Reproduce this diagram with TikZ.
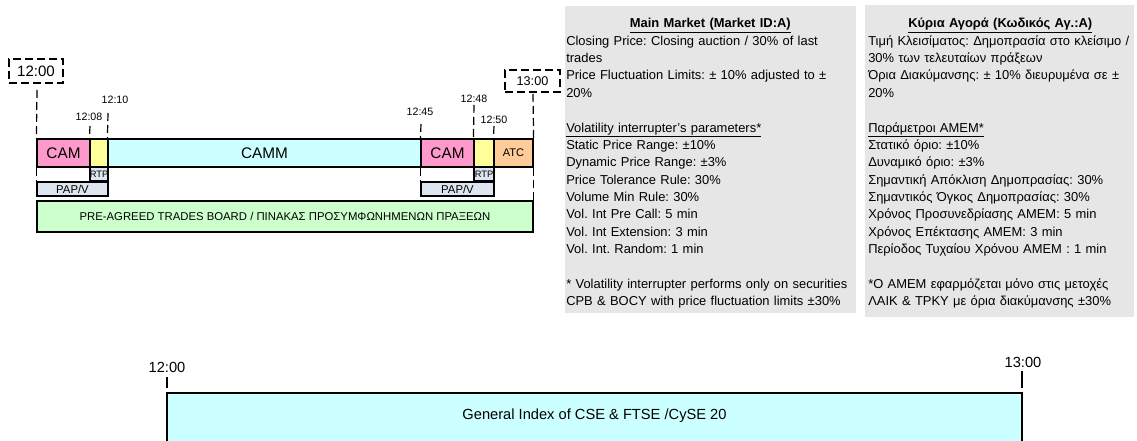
\documentclass[tikz,border=0pt]{standalone}
\usepackage{fontspec}
\setmainfont{Liberation Sans}
\usetikzlibrary{fit}
\definecolor{cpink}{HTML}{FF99CC}
\definecolor{cyell}{HTML}{FFFF99}
\definecolor{ccyan}{HTML}{CCFFFF}
\definecolor{corange}{HTML}{FFCC99}
\definecolor{cgreen}{HTML}{CCFFCC}
\definecolor{cblue}{HTML}{DDE5F0}
\definecolor{cpanel}{HTML}{E6E6E6}
\frenchspacing
\tikzset{
  seg/.style={draw=black, line width=0.9pt, inner sep=0pt},
  lbl/.style={inner sep=0pt},
  dashln/.style={draw=black, line width=0.9pt, dash pattern=on 6pt off 3pt},
  dashbox/.style={draw=black, line width=0.9pt, dash pattern=on 6pt off 3pt, inner sep=0pt},
  timelbl/.style={font=\fontsize{8}{9}\selectfont, inner sep=0pt},
  panel/.style={fill=cpanel, inner sep=0pt},
  ptext/.style={font=\fontsize{9.7}{13.03}\selectfont, align=left, inner sep=0pt, anchor=base west, text width=260pt},
  solidln/.style={draw=black, line width=0.8pt},
}
\begin{document}
\begin{tikzpicture}[x=0.75pt,y=-0.75pt]
\useasboundingbox (0,0) rectangle (1137,441);
% ---------- info panels ----------
\node[panel, fit={(565,6) (856,313)}] (pan1) {};
\node[panel, fit={(865,5) (1134,317)}] (pan2) {};
\node[ptext] (txt1) at (566,27.8) {\makebox[216pt][c]{\textbf{\underline{Main Market (Market ID:A)}}}\\
Closing Price: Closing auction / 30\% of last\\
trades\\
Price Fluctuation Limits: ± 10\% adjusted to ±\\
20\%\\
~\\
\underline{Volatility interrupter's parameters*}\\
Static Price Range: ±10\%\\
Dynamic Price Range: ±3\%\\
Price Tolerance Rule: 30\%\\
Volume Min Rule: 30\%\\
Vol. Int Pre Call: 5 min\\
Vol. Int Extension: 3 min\\
Vol. Int. Random: 1 min\\
~\\
{*} Volatility interrupter performs only on securities\\
CPB \& BOCY with price fluctuation limits ±30\%};
\node[ptext] (txt2) at (868,27.8) {\makebox[198pt][c]{\textbf{\underline{Κύρια Αγορά (Κωδικός Αγ.:Α)}}}\\
Τιμή Κλεισίματος: Δημοπρασία στο κλείσιμο /\\
30\% των τελευταίων πράξεων\\
Όρια Διακύμανσης: ± 10\% διευρυμένα σε ±\\
20\%\\
~\\
\underline{Παράμετροι ΑΜΕΜ*}\\
Στατικό όριο: ±10\%\\
Δυναμικό όριο: ±3\%\\
Σημαντική Απόκλιση Δημοπρασίας: 30\%\\
Σημαντικός Όγκος Δημοπρασίας: 30\%\\
Χρόνος Προσυνεδρίασης ΑΜΕΜ: 5 min\\
Χρόνος Επέκτασης ΑΜΕΜ: 3 min\\
Περίοδος Τυχαίου Χρόνου ΑΜΕΜ : 1 min\\
~\\
{*}Ο ΑΜΕΜ εφαρμόζεται μόνο στις μετοχές\\
ΛΑΙΚ \& ΤΡΚΥ με όρια διακύμανσης ±30\%};
% ---------- session bars ----------
\node[seg, fill=cpink, fit={(37,139) (90,167)}] (cam1) {};
\node[seg, fill=cyell, fit={(90,139) (108,167)}] (y1) {};
\node[seg, fill=ccyan, fit={(108,139) (421,167)}] (camm) {};
\node[seg, fill=cpink, fit={(421,139) (474,167)}] (cam2) {};
\node[seg, fill=cyell, fit={(474,139) (494,167)}] (y2) {};
\node[seg, fill=corange, fit={(494,139) (533,167)}] (atc) {};
\node[seg, fill=cblue, fit={(90,167) (108,181)}] (rtp1) {};
\node[seg, fill=cblue, fit={(474,167) (494,181)}] (rtp2) {};
\node[seg, fill=cblue, fit={(37,182) (108,196)}] (pap1) {};
\node[seg, fill=cblue, fit={(421,182) (494,196)}] (pap2) {};
\node[seg, fill=cgreen, fit={(37,201) (533,232)}] (board) {};
\node[lbl, font=\fontsize{11.5}{12}\selectfont] (lcam1) at (cam1.center) {CAM};
\node[lbl, font=\fontsize{11.5}{12}\selectfont] (lcamm) at (camm.center) {CAMM};
\node[lbl, font=\fontsize{11.5}{12}\selectfont] (lcam2) at (cam2.center) {CAM};
\node[lbl, font=\fontsize{8.3}{9}\selectfont] (latc) at (atc.center) {ATC};
\node[lbl, font=\fontsize{7}{8}\selectfont] (lrtp1) at (rtp1.center) {RTP};
\node[lbl, font=\fontsize{7}{8}\selectfont] (lrtp2) at (rtp2.center) {RTP};
\node[lbl, font=\fontsize{8.5}{9}\selectfont] (lpap1) at (pap1.center) {PAP/V};
\node[lbl, font=\fontsize{8.5}{9}\selectfont] (lpap2) at (pap2.center) {PAP/V};
\node[lbl, font=\fontsize{8.5}{9}\selectfont] (lboard) at (board.center) {PRE-AGREED TRADES BOARD / ΠΙΝΑΚΑΣ ΠΡΟΣΥΜΦΩΝΗΜΕΝΩΝ ΠΡΑΞΕΩΝ};
% ---------- time markers ----------
\node[dashbox, fit={(9,59) (63,83)}] (box12) {};
\node[dashbox, fit={(505,70) (560,92)}] (box13) {};
\node[lbl, font=\fontsize{11.3}{12}\selectfont] (l12) at (box12.center) {12:00};
\node[lbl, font=\fontsize{9.5}{10}\selectfont] (l13) at (box13.center) {13:00};
\node[timelbl] (t1208) at (89,117) {12:08};
\node[timelbl] (t1210) at (115,100) {12:10};
\node[timelbl] (t1245) at (420,112) {12:45};
\node[timelbl] (t1248) at (474,99) {12:48};
\node[timelbl] (t1250) at (494,120) {12:50};
\coordinate (c1200) at (37,90);
\coordinate (c1208) at (90,126);
\coordinate (c1210) at (108,113);
\coordinate (c1245) at (421,124);
\coordinate (c1248) at (474,105);
\coordinate (c1250) at (494,126);
\coordinate (c1300) at (533,94);
\draw[dashln] (c1200) -- (cam1.north west);
\draw[dashln] (cam1.south west) -- (pap1.north west);
\draw[dashln] (c1208) -- (y1.north west);
\draw[dashln] (c1210) -- (camm.north west);
\draw[dashln] (c1245) -- (cam2.north west);
\draw[dashln] (cam2.south west) -- (pap2.north west);
\draw[dashln] (c1248) -- (y2.north west);
\draw[dashln] (c1250) -- (atc.north west);
\draw[dashln] (c1300) -- (atc.north east);
\draw[dashln] (atc.south east) -- (board.north east);
% ---------- index bar ----------
\node[seg, fill=ccyan, fit={(167,393) (1022,446)}] (gidx) {};
\node[lbl, font=\fontsize{11}{12}\selectfont] (lgidx) at (594.5,416) {General Index of CSE \& FTSE /CySE 20};
\node[lbl, font=\fontsize{11}{12}\selectfont] (b1200) at (167,367) {12:00};
\node[lbl, font=\fontsize{11}{12}\selectfont] (b1300) at (1023,362) {13:00};
\coordinate (k1a) at (167,377);
\coordinate (k1b) at (167,388);
\coordinate (k2a) at (1022,371);
\coordinate (k2b) at (1022,388);
\draw[solidln] (k1a) -- (k1b);
\draw[solidln] (k2a) -- (k2b);
\end{tikzpicture}
\end{document}
